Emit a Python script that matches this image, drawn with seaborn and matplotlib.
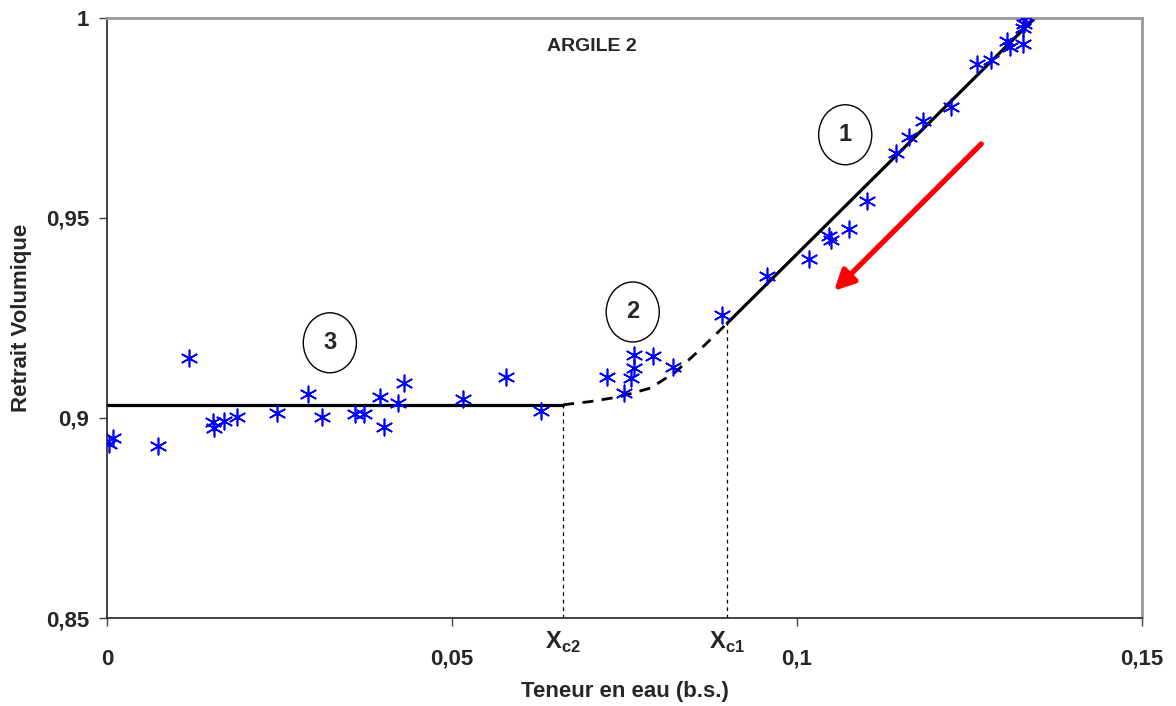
import numpy as np
import pandas as pd
import matplotlib
matplotlib.use('Agg')
import matplotlib.pyplot as plt
from matplotlib.patches import Ellipse, FancyArrowPatch
import seaborn as sns

# Data
teneur = [0.0003, 0.0009, 0.0074, 0.0119, 0.0153, 0.0155, 0.0169, 0.0188,
          0.0247, 0.0292, 0.0312, 0.0360, 0.0372, 0.0395, 0.0401, 0.0422,
          0.0430, 0.0516, 0.0578, 0.0629, 0.0724, 0.0749, 0.0759, 0.0764,
          0.0764, 0.0791, 0.0821, 0.0891, 0.0956, 0.1018, 0.1047, 0.1049,
          0.1076, 0.1102, 0.1143, 0.1163, 0.1182, 0.1224, 0.1261, 0.1281,
          0.1305, 0.1309, 0.1327, 0.1327, 0.1329, 0.1332]
retrait = [0.8935, 0.8949, 0.8931, 0.9149, 0.8991, 0.8974, 0.8993, 0.9002,
           0.9013, 0.9060, 0.9002, 0.9010, 0.9010, 0.9052, 0.8977, 0.9038,
           0.9087, 0.9047, 0.9103, 0.9018, 0.9103, 0.9063, 0.9099, 0.9124,
           0.9157, 0.9155, 0.9127, 0.9258, 0.9355, 0.9397, 0.9455, 0.9445,
           0.9472, 0.9543, 0.9663, 0.9702, 0.9743, 0.9777, 0.9885, 0.9895,
           0.9943, 0.9928, 0.9935, 0.9974, 0.9985, 1.0005]

# phase 3 (plateau), phase 2 (transition, dashed), phase 1 (linear)
plateau_x = [0.0, 0.0661]
plateau_y = [0.9033, 0.9033]
transition_x = [0.0661, 0.0700, 0.0743, 0.0788, 0.0824, 0.0859, 0.0899]
transition_y = [0.9033, 0.9041, 0.9053, 0.9075, 0.9115, 0.9170, 0.9237]
phase1_x = [0.0899, 0.1345]
phase1_y = [0.9237, 1.0000]

xc2 = 0.0661
xc1 = 0.0899

xticks = [0, 0.05, 0.1, 0.15]
xtick_labels = ['0', '0,05', '0,1', '0,15']
yticks = [0.85, 0.9, 0.95, 1.0]
ytick_labels = ['0,85', '0,9', '0,95', '1']

df = pd.DataFrame({'teneur': teneur, 'retrait': retrait})

sns.set_style('ticks')
plt.rcParams['font.family'] = ['Liberation Sans', 'DejaVu Sans']
plt.rcParams['mathtext.fontset'] = 'custom'
plt.rcParams['mathtext.rm'] = 'Liberation Sans'
plt.rcParams['mathtext.bf'] = 'Liberation Sans:bold'

fig = plt.figure(figsize=(11.76, 7.06), dpi=100)
ax = fig.add_axes([0.091, 0.1246, 0.880, 0.850])

# fitted lines
ax.plot(plateau_x, plateau_y, color='black', lw=2.3, zorder=2)
ax.plot(transition_x, transition_y, color='black', lw=2.0, ls=(0, (4, 3)), zorder=2)
ax.plot(phase1_x, phase1_y, color='black', lw=2.3, zorder=2)

# critical moisture contents
ax.plot([xc2, xc2], [0.85, plateau_y[-1]], color='black', lw=0.9, ls=(0, (3, 3)))
ax.plot([xc1, xc1], [0.85, phase1_y[0]], color='black', lw=0.9, ls=(0, (3, 3)))

# measured points
sns.scatterplot(data=df, x='teneur', y='retrait', marker=(6, 2, 0), color='#0000FF',
                s=140, linewidth=1.2, ax=ax, zorder=3)

ax.set_xlim(0, 0.15)
ax.set_ylim(0.85, 1.0)
ax.set_xticks(xticks)
ax.set_xticklabels(xtick_labels)
ax.set_yticks(yticks)
ax.set_yticklabels(ytick_labels)
ax.tick_params(axis='both', labelsize=16, length=6, width=1.0, color='#444444')
ax.tick_params(axis='x', pad=16)
ax.tick_params(axis='y', pad=7)
for lab in ax.get_xticklabels() + ax.get_yticklabels():
    lab.set_fontweight('bold')

for side in ['left', 'bottom']:
    ax.spines[side].set_color('#222222')
    ax.spines[side].set_linewidth(1.2)
for side in ['top', 'right']:
    ax.spines[side].set_visible(True)
    ax.spines[side].set_color('#999999')
    ax.spines[side].set_linewidth(2.0)

ax.set_xlabel('Teneur en eau (b.s.)', fontsize=16, fontweight='bold', labelpad=8)
ax.set_ylabel('Retrait Volumique', fontsize=16, fontweight='bold', labelpad=10)

ax.text(0.0702, 0.9928, 'ARGILE 2', fontsize=14, fontweight='bold', ha='center', va='center')

# phase numbers in circles
for cx, cy, num in [(0.1070, 0.9708, '1'), (0.0762, 0.9265, '2'), (0.0323, 0.9188, '3')]:
    ax.add_patch(Ellipse((cx, cy), 0.0077, 0.0150, fill=False, ec='black', lw=1.0, zorder=4))
    ax.text(cx, cy, num, fontsize=17, fontweight='bold', ha='center', va='center', zorder=5)

# Xc labels under the axis
ax.text(xc2, -0.02, r'$\mathbf{X}_{\mathbf{c2}}$', transform=ax.get_xaxis_transform(),
        fontsize=17, ha='center', va='top')
ax.text(xc1, -0.02, r'$\mathbf{X}_{\mathbf{c1}}$', transform=ax.get_xaxis_transform(),
        fontsize=17, ha='center', va='top')

# drying direction arrow
arrow = FancyArrowPatch((0.1270, 0.9690), (0.1051, 0.9313), arrowstyle='-|>',
                        mutation_scale=30, color='#FF0000', lw=3.8, zorder=4)
ax.add_patch(arrow)

fig.savefig('out.png', dpi=100)
